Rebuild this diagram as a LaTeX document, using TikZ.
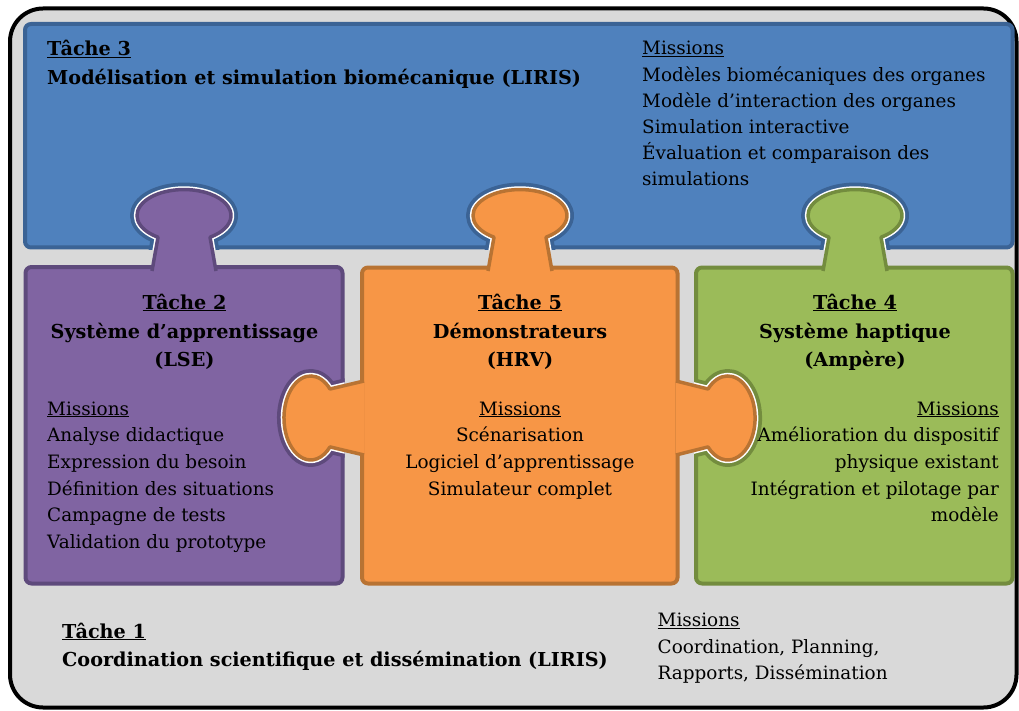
\documentclass[tikz,border=0pt]{standalone}
\usepackage{fontspec}
\setmainfont{DejaVu Serif}
\definecolor{bg}{HTML}{D9D9D9}
\definecolor{bluef}{HTML}{4F81BD}
\definecolor{blued}{HTML}{3B6395}
\definecolor{purf}{HTML}{8064A2}
\definecolor{purd}{HTML}{5E4A7C}
\definecolor{oraf}{HTML}{F79646}
\definecolor{orad}{HTML}{B87333}
\definecolor{grnf}{HTML}{9BBB59}
\definecolor{grnd}{HTML}{738C3E}
\begin{document}
\begin{tikzpicture}[x=1pt,y=-1pt,
  toptab/.style={insert path={(#1-32,271) -- (#1-26,237.2) arc[start angle=123.6, end angle=416.4, x radius=47, y radius=26] -- (#1+32,271)}},
  lefttab/.style={insert path={(364,381) -- (330,389) arc[start angle=-43.6, end angle=-316.4, x radius=26.7, y radius=42] -- (364,455)}},
  righttab/.style={insert path={(676,381) -- (708,389) arc[start angle=223.6, end angle=496.4, x radius=27.3, y radius=42] -- (676,455)}},
  piece/.style={line width=4, rounded corners=6},
  tabline/.style={line width=3.5, line join=round},
  ring/.style={line width=14, line join=round},
  gap/.style={white, line width=6.5, line join=round},
  tr/.style={font=\fontsize{18.4}{22}\selectfont, inner sep=0, anchor=base west},
  tb/.style={font=\bfseries\fontsize{19.2}{23}\selectfont, inner sep=0, anchor=base west},
  tbc/.style={tb, anchor=base},
  trc/.style={tr, anchor=base},
  tre/.style={tr, anchor=base east}]
\useasboundingbox (0,0) rectangle (1019,711);
% outer frame
\draw[line width=4, fill=bg, rounded corners=33] (10,8.5) rectangle (1016.5,707.5);
% task 3 piece
\draw[piece, fill=bluef, draw=blued] (25,24) rectangle (1012.5,247.5);
\begin{scope}
  \clip (25,24) rectangle (1012.5,249.5);
  \draw[ring, blued] [toptab=184];
  \draw[gap] [toptab=184];
  \draw[ring, blued] [toptab=520];
  \draw[gap] [toptab=520];
  \draw[ring, blued] [toptab=855];
  \draw[gap] [toptab=855];
\end{scope}
% lower pieces
\draw[piece, fill=purf, draw=purd] (25.5,267) rectangle (342.5,583.5);
\draw[piece, fill=oraf, draw=orad] (362,267.5) rectangle (677.5,583.5);
\draw[piece, fill=grnf, draw=grnd] (696,267.5) rectangle (1012.5,583.5);
\begin{scope}
  \clip (25.5,267) rectangle (344.5,583.5);
  \draw[ring, purd] [lefttab];
  \draw[gap] [lefttab];
\end{scope}
\begin{scope}
  \clip (694,267) rectangle (1012.5,583.5);
  \draw[ring, grnd] [righttab];
  \draw[gap] [righttab];
\end{scope}
% tabs
\draw[tabline, fill=purf, draw=purd] [toptab=184];
\draw[tabline, fill=oraf, draw=orad] [toptab=520];
\draw[tabline, fill=grnf, draw=grnd] [toptab=855];
\draw[tabline, fill=oraf, draw=orad] [lefttab];
\draw[tabline, fill=oraf, draw=orad] [righttab];
% task 3 texts
\node[tb] (t3) at (47,56) {\underline{Tâche 3}};
\node[tb] (t3n) at (47,85) {Modélisation et simulation biomécanique (LIRIS)};
\node[tr] (m3) at (642,55) {\underline{Missions}};
\node[tr] (m3a) at (642,81.7) {Modèles biomécaniques des organes};
\node[tr] (m3b) at (642,107.7) {Modèle d’interaction des organes};
\node[tr] (m3c) at (642,134) {Simulation interactive};
\node[tr] (m3d) at (642,160) {Évaluation et comparaison des};
\node[tr] (m3e) at (642,186) {simulations};
% task 2
\node[tbc] (t2) at (184.5,309) {\underline{Tâche 2}};
\node[tbc] (t2n) at (184.5,338) {Système d’apprentissage};
\node[tbc] (t2l) at (184.5,366.5) {(LSE)};
\node[tr] (m2) at (47,415) {\underline{Missions}};
\node[tr] (m2a) at (47,441.7) {Analyse didactique};
\node[tr] (m2b) at (47,468.4) {Expression du besoin};
\node[tr] (m2c) at (47,495) {Définition des situations};
\node[tr] (m2d) at (47,521.8) {Campagne de tests};
\node[tr] (m2e) at (47,548.5) {Validation du prototype};
% task 5
\node[tbc] (t5) at (520,309) {\underline{Tâche 5}};
\node[tbc] (t5n) at (520,338) {Démonstrateurs};
\node[tbc] (t5l) at (520,366.5) {(HRV)};
\node[trc] (m5) at (520,415) {\underline{Missions}};
\node[trc] (m5a) at (520,441.7) {Scénarisation};
\node[trc] (m5b) at (520,468.4) {Logiciel d’apprentissage};
\node[trc] (m5c) at (520,495) {Simulateur complet};
% task 4
\node[tbc] (t4) at (855,309) {\underline{Tâche 4}};
\node[tbc] (t4n) at (855,338) {Système haptique};
\node[tbc] (t4l) at (855,366.5) {(Ampère)};
\node[tre] (m4) at (999,415) {\underline{Missions}};
\node[tre] (m4a) at (999,441.7) {Amélioration du dispositif};
\node[tre] (m4b) at (999,468.4) {physique existant};
\node[tre] (m4c) at (999,495) {Intégration et pilotage par};
\node[tre] (m4d) at (999,521.8) {modèle};
% task 1
\node[tb] (t1) at (62,638) {\underline{Tâche 1}};
\node[tb] (t1n) at (62,666.7) {Coordination scientifique et dissémination (LIRIS)};
\node[tr] (m1) at (657.5,626.7) {\underline{Missions}};
\node[tr] (m1a) at (657.5,653) {Coordination, Planning,};
\node[tr] (m1b) at (657.5,679) {Rapports, Dissémination};
\end{tikzpicture}
\end{document}
